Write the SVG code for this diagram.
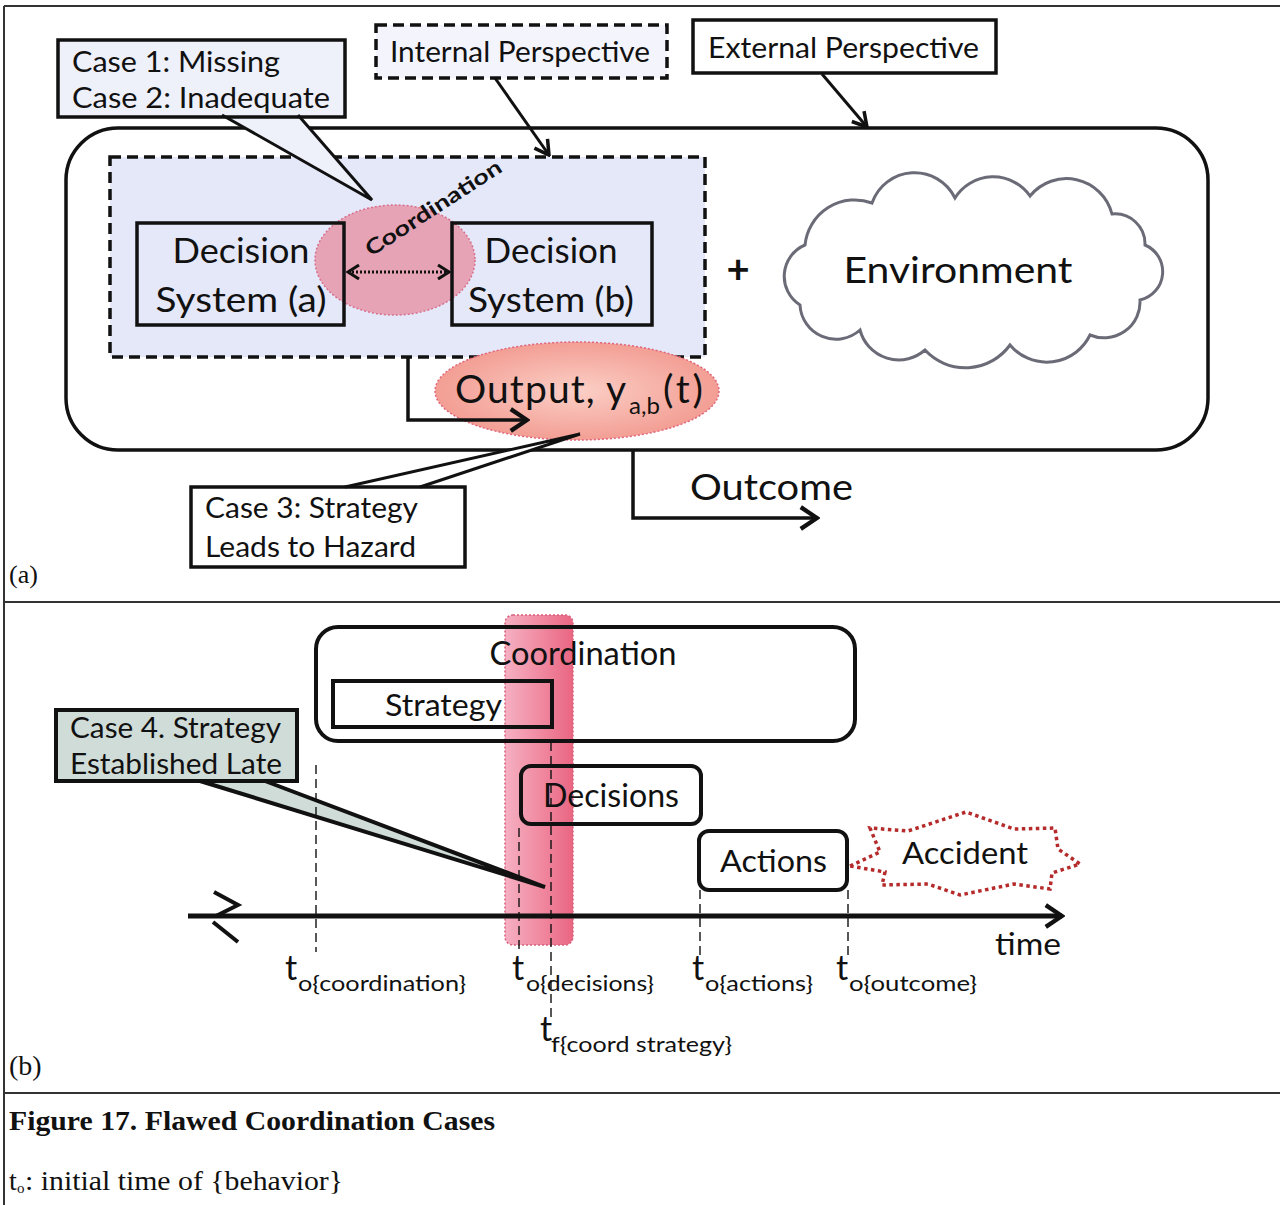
<svg xmlns="http://www.w3.org/2000/svg" width="1280" height="1205" viewBox="0 0 1280 1205">
  <style>
    .sans { font-family: Lato, "Liberation Sans", sans-serif; fill: #111; }
    .serif { font-family: "Liberation Serif", serif; fill: #111; }
    .box { fill: #fff; stroke: #111; stroke-width: 3.5; }
    .line { fill: none; stroke: #111; stroke-width: 3.5; }
    .thin { fill: none; stroke: #111; stroke-width: 3; }
    .guide { fill: none; stroke: #111; stroke-width: 1.4; stroke-dasharray: 9 5; }
    .rule { stroke: #333; stroke-width: 2; }
  </style>
  <defs>
    <marker id="chev" viewBox="0 0 20 20" refX="18" refY="10" markerWidth="20" markerHeight="20" markerUnits="userSpaceOnUse" orient="auto">
      <path d="M4,2 L18,10 L4,18" fill="none" stroke="#111" stroke-width="3.5"/>
    </marker>
    <marker id="chevBig" viewBox="0 0 24 24" refX="21" refY="12" markerWidth="26" markerHeight="26" markerUnits="userSpaceOnUse" orient="auto">
      <path d="M6,2 L21,12 L6,22" fill="none" stroke="#111" stroke-width="4"/>
    </marker>
    <marker id="chevS" viewBox="0 0 16 16" refX="14" refY="8" markerWidth="16" markerHeight="16" markerUnits="userSpaceOnUse" orient="auto-start-reverse">
      <path d="M3,1 L14,8 L3,15" fill="none" stroke="#111" stroke-width="3"/>
    </marker>
    <radialGradient id="outFill" cx="0.5" cy="0.5" r="0.55">
      <stop offset="0" stop-color="#fbcfc6"/>
      <stop offset="1" stop-color="#f2998f"/>
    </radialGradient>
    <linearGradient id="bandFill" x1="0" y1="0" x2="1" y2="0">
      <stop offset="0" stop-color="#f6b0c2"/>
      <stop offset="1" stop-color="#ea6682"/>
    </linearGradient>
  </defs>

  <!-- page frame rules -->
  <g id="frame">
    <line class="rule" x1="4" y1="6" x2="1280" y2="6"/>
    <line class="rule" x1="4" y1="6" x2="4" y2="1205"/>
    <line class="rule" x1="4" y1="602" x2="1280" y2="602"/>
    <line class="rule" x1="4" y1="1093" x2="1280" y2="1093"/>
  </g>

  <!-- ===== panel (a) ===== -->
  <g id="system-boundary">
    <rect x="66" y="128" width="1142" height="322" rx="52" class="box"/>
  </g>

  <g id="internal-region">
    <rect x="110" y="157" width="595" height="200" fill="#e5e8f8" stroke="#111" stroke-width="3.5" stroke-dasharray="11 6"/>
  </g>

  <g id="coordination-zone">
    <ellipse cx="395" cy="260" rx="80" ry="55" fill="#e6a3b6" stroke="#d86f8c" stroke-width="1.5" stroke-dasharray="2 2"/>
  </g>

  <g id="decision-a">
    <rect x="137" y="223" width="207" height="102" fill="none" stroke="#111" stroke-width="3.5"/>
    <text class="sans" x="241" y="263" font-size="34" text-anchor="middle" textLength="137" lengthAdjust="spacingAndGlyphs">Decision</text>
    <text class="sans" x="241" y="312" font-size="34" text-anchor="middle" textLength="171" lengthAdjust="spacingAndGlyphs">System (a)</text>
  </g>

  <g id="decision-b">
    <rect x="452" y="223" width="200" height="102" fill="none" stroke="#111" stroke-width="3.5"/>
    <text class="sans" x="551" y="263" font-size="34" text-anchor="middle" textLength="133" lengthAdjust="spacingAndGlyphs">Decision</text>
    <text class="sans" x="551" y="312" font-size="34" text-anchor="middle" textLength="166" lengthAdjust="spacingAndGlyphs">System (b)</text>
  </g>

  <g id="coordination-label">
    <text class="sans" font-size="21" font-weight="bold" transform="translate(371,257) rotate(-33)" textLength="158" lengthAdjust="spacingAndGlyphs">Coordination</text>
  </g>

  <g id="output">
    <ellipse cx="577" cy="391" rx="142" ry="49" fill="url(#outFill)" stroke="#e0657a" stroke-width="1.5" stroke-dasharray="2 2"/>
    <text class="sans" x="455" y="403" font-size="39" letter-spacing="1.1">Output, y<tspan font-size="24" dx="2" dy="11" letter-spacing="0">a,b</tspan><tspan dx="3" dy="-11" letter-spacing="0">(</tspan><tspan dx="3" letter-spacing="0">t</tspan><tspan dx="3" letter-spacing="0">)</tspan></text>
  </g>

  <g id="plus">
    <text class="sans" x="738" y="283" font-size="40" font-weight="bold" text-anchor="middle">+</text>
  </g>

  <g id="environment">
    <path d="M805,245 A50 50 0 0 1 872,203 A45 45 0 0 1 955,198 A45 45 0 0 1 1030,196 A47 47 0 0 1 1112,214 A30 30 0 0 1 1145,245 A29 29 0 0 1 1140,300 A36 36 0 0 1 1090,335 A48 48 0 0 1 1010,345 A55 55 0 0 1 925,350 A40 40 0 0 1 860,330 A36 36 0 0 1 800,305 A34 34 0 0 1 805,245 Z" fill="#fff" stroke="#6b6b78" stroke-width="3"/>
    <text class="sans" x="958" y="283" font-size="36" text-anchor="middle" textLength="229" lengthAdjust="spacingAndGlyphs">Environment</text>
  </g>

  <g id="case-1-2">
    <path d="M222,115 L372,200 L298,115 Z" fill="#eef0fa" stroke="none"/>
    <rect x="58" y="40" width="287" height="77" fill="#eef0fa" stroke="#111" stroke-width="3.5"/>
    <text class="sans" x="72" y="72" font-size="28" textLength="208" lengthAdjust="spacingAndGlyphs">Case 1: Missing</text>
    <text class="sans" x="72" y="108" font-size="28" textLength="258" lengthAdjust="spacingAndGlyphs">Case 2: Inadequate</text>
  </g>

  <g id="internal-perspective">
    <rect x="376" y="25" width="291" height="53" fill="#f4f5fc" stroke="#111" stroke-width="3.5" stroke-dasharray="11 6"/>
    <text class="sans" x="390" y="62" font-size="28" textLength="260" lengthAdjust="spacingAndGlyphs">Internal Perspective</text>
  </g>

  <g id="external-perspective">
    <rect x="693" y="20" width="303" height="53" class="box"/>
    <text class="sans" x="708" y="58" font-size="28" textLength="271" lengthAdjust="spacingAndGlyphs">External Perspective</text>
  </g>

  <g id="case-3">
    <path d="M345,487 L580,434 L420,487 Z" fill="#fff" stroke="none"/>
    <rect x="191" y="487" width="274" height="80" class="box"/>
    <text class="sans" x="205" y="518" font-size="28" textLength="213" lengthAdjust="spacingAndGlyphs">Case 3: Strategy</text>
    <text class="sans" x="205" y="557" font-size="28" textLength="211" lengthAdjust="spacingAndGlyphs">Leads to Hazard</text>
  </g>

  <g id="outcome">
    <text class="sans" x="690" y="500" font-size="36" textLength="163" lengthAdjust="spacingAndGlyphs">Outcome</text>
  </g>

  <g id="connectors-a">
    <!-- callout wedges -->
    <polyline class="thin" points="222,115 372,200 298,115"/>
    <polyline class="thin" points="345,487 580,434 420,487"/>
    <!-- perspective pointers -->
    <line class="thin" x1="495" y1="78" x2="549" y2="155" marker-end="url(#chev)"/>
    <line class="thin" x1="822" y1="74" x2="867" y2="127" marker-end="url(#chev)"/>
    <!-- coordination link -->
    <line x1="348" y1="272" x2="449" y2="272" stroke="#111" stroke-width="3" stroke-dasharray="2 2" marker-start="url(#chevS)" marker-end="url(#chevS)"/>
    <!-- output and outcome flows -->
    <polyline class="line" points="408,357 408,420 527,420" marker-end="url(#chevBig)"/>
    <polyline class="line" points="633,450 633,518 817,518" marker-end="url(#chevBig)"/>
  </g>

  <text class="serif" x="9" y="583" font-size="26">(a)</text>

  <!-- ===== panel (b) ===== -->
  <g id="late-window">
    <rect x="505" y="615" width="68" height="330" rx="8" fill="url(#bandFill)" stroke="#d6607c" stroke-width="1.5" stroke-dasharray="2 2"/>
  </g>

  <g id="coordination">
    <rect x="316" y="627" width="539" height="114" rx="22" fill="none" stroke="#111" stroke-width="4"/>
    <text class="sans" x="583" y="665" font-size="32" text-anchor="middle" textLength="187" lengthAdjust="spacingAndGlyphs">Coordination</text>
  </g>

  <g id="strategy">
    <rect x="333" y="681" width="219" height="46" fill="none" stroke="#111" stroke-width="4"/>
    <text class="sans" x="385" y="716" font-size="30" textLength="117" lengthAdjust="spacingAndGlyphs">Strategy</text>
  </g>

  <g id="decisions">
    <rect x="521" y="766" width="180" height="58" rx="10" fill="none" stroke="#111" stroke-width="4"/>
    <text class="sans" x="543" y="807" font-size="32" textLength="136" lengthAdjust="spacingAndGlyphs">Decisions</text>
  </g>

  <g id="actions">
    <rect x="699" y="831" width="148" height="59" rx="10" fill="#fff" stroke="#111" stroke-width="4"/>
    <text class="sans" x="720" y="872" font-size="31" textLength="107" lengthAdjust="spacingAndGlyphs">Actions</text>
  </g>

  <g id="accident">
    <polygon points="850,866 880,852 870,828 908,831 966,812 1014,829 1055,828 1058,849 1080,864 1052,873 1050,889 1014,884 960,895 928,884 882,885 885,872" fill="#fff" stroke="#b52a2a" stroke-width="3.5" stroke-dasharray="3.5 3.5"/>
    <text class="sans" x="902" y="864" font-size="31" textLength="126" lengthAdjust="spacingAndGlyphs">Accident</text>
  </g>

  <g id="case-4">
    <path d="M200,781 L545,887 L265,781 Z" fill="#d0dcd7" stroke="none"/>
    <rect x="56" y="710" width="241" height="71" fill="#d0dcd7" stroke="#111" stroke-width="4"/>
    <text class="sans" x="70" y="738" font-size="28" textLength="211" lengthAdjust="spacingAndGlyphs">Case 4. Strategy</text>
    <text class="sans" x="70" y="774" font-size="28" textLength="212" lengthAdjust="spacingAndGlyphs">Established Late</text>
  </g>

  <g id="connectors-b">
    <polyline points="200,781 545,887 265,781" fill="none" stroke="#111" stroke-width="4"/>
    <!-- time axis with break mark -->
    <line x1="188" y1="916" x2="1062" y2="916" stroke="#111" stroke-width="5" marker-end="url(#chevBig)"/>
    <polyline points="214,892 238,905 216,916" fill="none" stroke="#111" stroke-width="4"/>
    <line x1="213" y1="922" x2="238" y2="942" stroke="#111" stroke-width="4"/>
    <!-- onset guides -->
    <line class="guide" x1="316" y1="765" x2="316" y2="952"/>
    <line class="guide" x1="519" y1="828" x2="519" y2="950"/>
    <line class="guide" x1="551" y1="742" x2="551" y2="1022"/>
    <line class="guide" x1="700" y1="890" x2="700" y2="958"/>
    <line class="guide" x1="848" y1="890" x2="848" y2="958"/>
  </g>

  <g id="time-labels">
    <text class="sans" x="995" y="955" font-size="30" textLength="66" lengthAdjust="spacingAndGlyphs">time</text>
    <text class="sans" x="285" y="980" font-size="34">t</text>
    <text class="sans" x="298" y="991" font-size="22" textLength="168" lengthAdjust="spacingAndGlyphs">o{coordination}</text>
    <text class="sans" x="512" y="980" font-size="34">t</text>
    <text class="sans" x="526" y="991" font-size="22" textLength="128" lengthAdjust="spacingAndGlyphs">o{decisions}</text>
    <text class="sans" x="692" y="980" font-size="34">t</text>
    <text class="sans" x="705" y="991" font-size="22" textLength="108" lengthAdjust="spacingAndGlyphs">o{actions}</text>
    <text class="sans" x="836" y="980" font-size="34">t</text>
    <text class="sans" x="849" y="991" font-size="22" textLength="128" lengthAdjust="spacingAndGlyphs">o{outcome}</text>
    <text class="sans" x="540" y="1041" font-size="34">t</text>
    <text class="sans" x="551" y="1052" font-size="22" textLength="181" lengthAdjust="spacingAndGlyphs">f{coord strategy}</text>
  </g>

  <text class="serif" x="9" y="1075" font-size="28">(b)</text>

  <!-- caption -->
  <g id="caption">
    <text class="serif" x="9" y="1130" font-size="27" font-weight="bold" textLength="486" lengthAdjust="spacingAndGlyphs">Figure 17. Flawed Coordination Cases</text>
    <text class="serif" x="9" y="1190" font-size="28">t</text>
    <text class="serif" x="17" y="1193" font-size="15">o</text>
    <text class="serif" x="25" y="1190" font-size="28" textLength="318" lengthAdjust="spacingAndGlyphs">: initial time of {behavior}</text>
  </g>
</svg>
